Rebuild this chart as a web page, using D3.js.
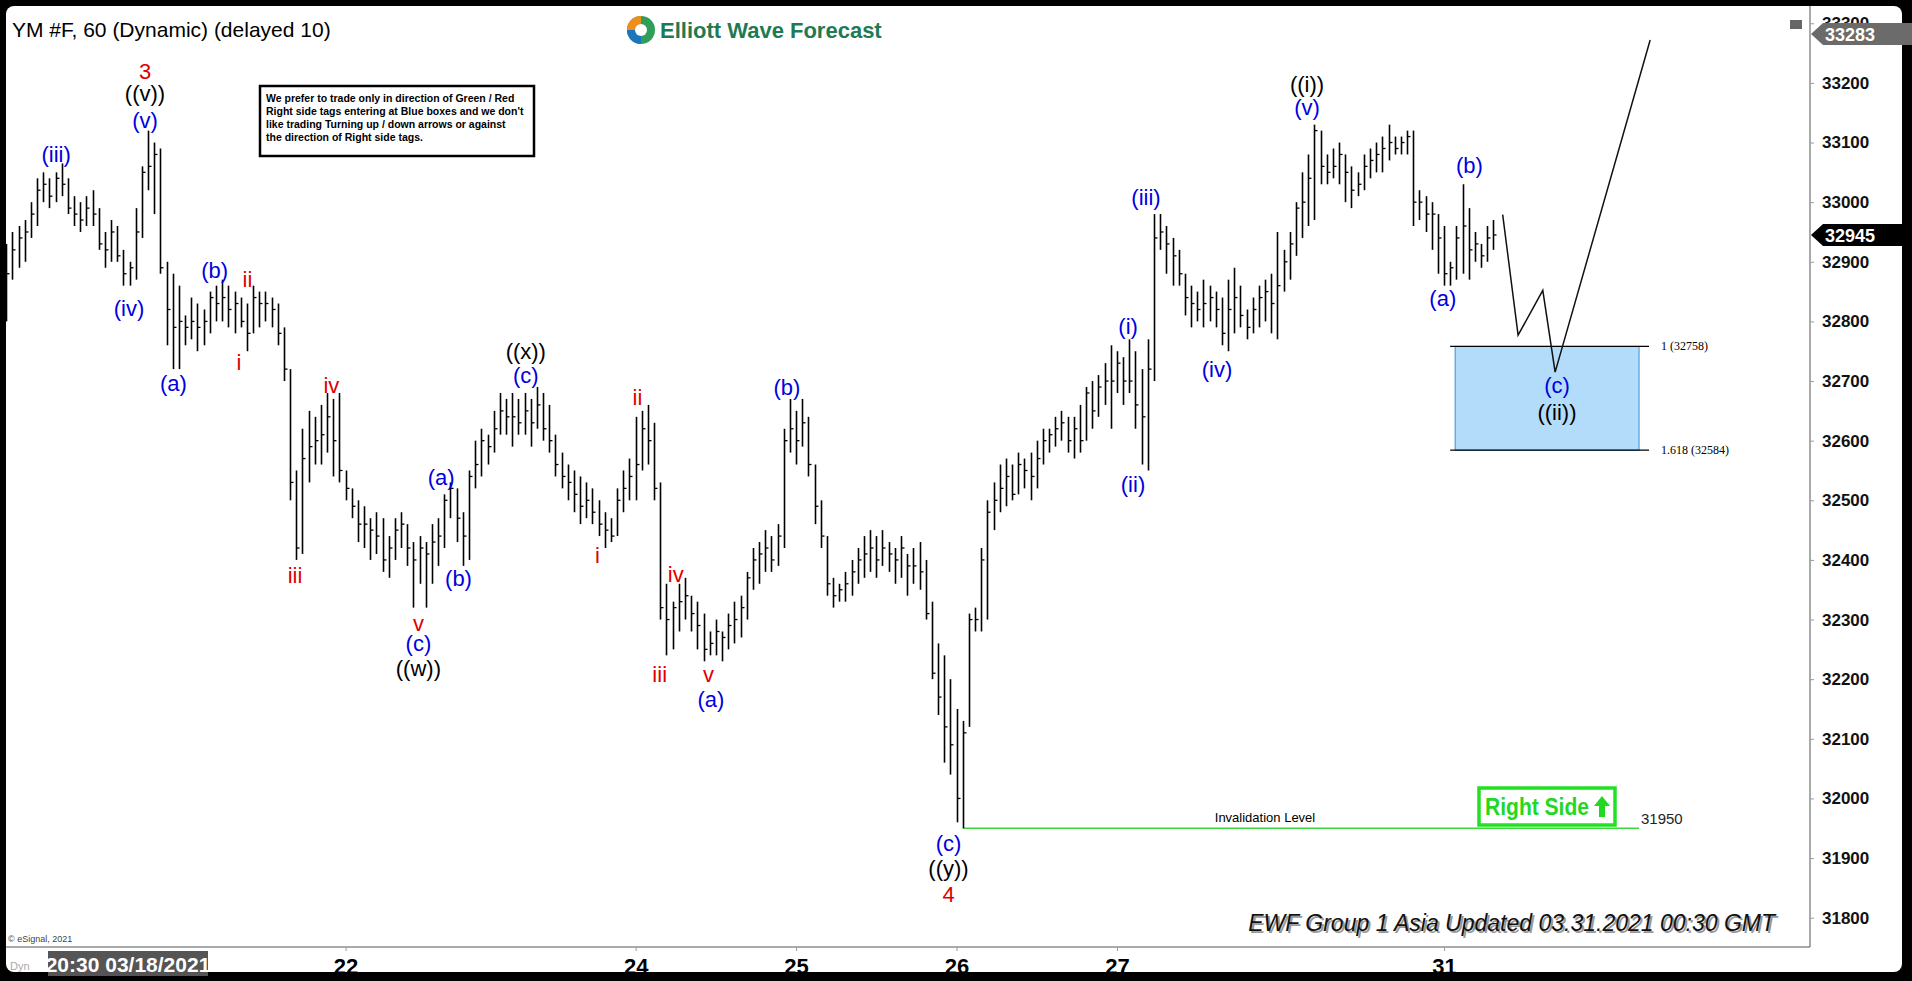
<!DOCTYPE html>
<html><head><meta charset="utf-8">
<script src="https://cdn.jsdelivr.net/npm/d3@7"></script>
<style>
body{margin:0;background:#000;overflow:hidden}
svg{display:block}
</style></head>
<body>
<svg width="1912" height="981"></svg>
<script>
// hourly bars: [high, low, close]
var bars = [
[32930,32800,32880],[32950,32870,32920],[32960,32890,32940],[32970,32900,32950],[33000,32940,32980],
[33040,32960,33020],[33050,33000,33030],[33040,32990,33010],[33050,33000,33040],[33065,33010,33030],
[33040,32980,32990],[33010,32960,32980],[33000,32950,32970],[33010,32960,32990],[33020,32960,32980],
[32990,32920,32930],[32950,32890,32920],[32970,32900,32950],[32960,32900,32910],[32920,32860,32880],
[32900,32860,32890],[32990,32870,32950],[33060,32940,33050],[33120,33020,33060],[33100,32980,33080],
[33090,32880,32890],[32900,32760,32820],[32880,32720,32790],[32860,32720,32800],[32810,32760,32790],
[32840,32770,32800],[32830,32750,32790],[32820,32760,32800],[32850,32780,32840],[32860,32800,32830],
[32870,32800,32840],[32860,32790,32820],[32850,32780,32830],[32840,32790,32800],[32830,32750,32780],
[32860,32780,32840],[32850,32790,32830],[32850,32800,32830],[32840,32790,32820],[32830,32760,32780],
[32790,32700,32720],[32720,32500,32530],[32550,32400,32420],[32620,32410,32570],[32650,32530,32590],
[32640,32560,32600],[32660,32560,32610],[32680,32580,32640],[32670,32540,32600],[32680,32530,32550],
[32550,32500,32520],[32520,32470,32490],[32500,32430,32460],[32490,32420,32460],[32470,32400,32450],
[32480,32410,32440],[32470,32380,32400],[32440,32370,32420],[32470,32400,32450],[32480,32420,32460],
[32460,32390,32420],[32430,32320,32400],[32440,32360,32420],[32430,32320,32410],[32460,32360,32430],
[32470,32390,32440],[32510,32420,32500],[32530,32470,32520],[32520,32430,32470],[32480,32390,32440],
[32550,32400,32540],[32600,32520,32560],[32620,32540,32600],[32610,32560,32590],[32650,32580,32620],
[32680,32610,32650],[32670,32610,32640],[32680,32590,32640],[32670,32610,32630],[32680,32610,32650],
[32670,32590,32630],[32690,32620,32660],[32680,32600,32620],[32660,32580,32600],[32610,32540,32560],
[32580,32520,32540],[32560,32500,32530],[32550,32480,32510],[32540,32460,32490],[32530,32470,32500],
[32520,32460,32480],[32500,32440,32460],[32480,32420,32450],[32470,32430,32440],[32520,32440,32500],
[32550,32480,32520],[32570,32500,32540],[32640,32500,32560],[32650,32550,32620],[32660,32560,32600],
[32630,32500,32520],[32530,32300,32320],[32360,32240,32300],[32330,32250,32320],[32360,32280,32330],
[32370,32300,32340],[32340,32280,32310],[32330,32250,32290],[32310,32230,32250],[32280,32240,32260],
[32300,32240,32280],[32280,32230,32270],[32310,32250,32290],[32330,32260,32300],[32340,32270,32320],
[32380,32300,32370],[32420,32350,32400],[32430,32360,32410],[32450,32380,32420],[32440,32380,32400],
[32460,32390,32440],[32620,32420,32600],[32670,32580,32620],[32650,32560,32600],[32670,32590,32630],
[32640,32540,32560],[32560,32460,32490],[32500,32420,32440],[32440,32340,32360],[32370,32320,32340],
[32360,32330,32350],[32380,32330,32360],[32400,32340,32380],[32420,32360,32400],[32440,32370,32410],
[32450,32380,32420],[32440,32370,32400],[32450,32390,32420],[32430,32380,32410],[32420,32360,32400],
[32440,32370,32420],[32410,32340,32390],[32420,32360,32390],[32430,32350,32380],[32400,32300,32310],
[32330,32200,32210],[32260,32140,32170],[32240,32060,32120],[32200,32040,32090],[32150,31960,32000],
[32130,31950,32110],[32310,32120,32300],[32320,32280,32300],[32420,32280,32400],[32500,32300,32480],
[32530,32450,32500],[32560,32480,32520],[32570,32490,32540],[32560,32500,32510],[32580,32510,32560],
[32570,32520,32550],[32580,32500,32540],[32600,32520,32570],[32620,32560,32600],[32620,32580,32610],
[32640,32590,32620],[32650,32600,32630],[32640,32580,32600],[32640,32570,32620],[32660,32580,32600],
[32690,32600,32680],[32700,32620,32650],[32710,32640,32690],[32730,32660,32700],[32760,32620,32700],
[32750,32680,32730],[32740,32660,32700],[32770,32680,32700],[32750,32620,32660],[32720,32560,32640],
[32770,32550,32720],[32980,32700,32940],[32980,32920,32950],[32960,32880,32930],[32940,32860,32910],
[32920,32860,32880],[32880,32810,32840],[32860,32790,32830],[32850,32800,32820],[32870,32790,32830],
[32860,32800,32840],[32850,32790,32820],[32840,32760,32780],[32870,32750,32820],[32890,32780,32840],
[32860,32790,32810],[32820,32770,32790],[32840,32780,32820],[32860,32790,32840],[32870,32800,32850],
[32880,32780,32830],[32950,32770,32860],[32920,32850,32900],[32950,32870,32930],[33000,32910,32990],
[33050,32940,33000],[33080,32960,33040],[33130,32970,33120],[33120,33030,33060],[33080,33030,33050],
[33090,33040,33060],[33100,33030,33080],[33080,33000,33050],[33060,32990,33020],[33050,33010,33030],
[33080,33020,33060],[33090,33040,33070],[33100,33050,33080],[33110,33050,33090],[33130,33070,33100],
[33110,33080,33090],[33110,33080,33100],[33120,33080,33110],[33120,32960,33000],[33020,32970,33000],
[33010,32950,32980],[33000,32920,32980],[32980,32880,32940],[32960,32860,32880],[32900,32860,32890],
[32960,32870,32940],[33030,32880,32960],[32990,32870,32920],[32950,32900,32930],[32930,32890,32910],
[32960,32900,32940],[32970,32920,32945]
];

var priceTicks = [31800,31900,32000,32100,32200,32300,32400,32500,32600,32700,32800,32900,33000,33100,33200,33300];
var dateTickIdx = [55,102,128,154,180,233];
var dateTickLabels = ['22','24','25','26','27','31'];

// projected path after last bar: [bar index, price]
var projection = [[242.5,32979],[245,32777],[249,32852],[251,32715],[266.4,33272]];

// wave labels: [text, bar index, price, colour]
var waveLabels = [
['3',22.5,33220,'red'],['((v))',22.5,33182,'black'],['(v)',22.5,33137,'blue'],
['(iii)',8.1,33081,'blue'],['(iv)',19.9,32822,'blue'],['(a)',27.1,32697,'blue'],['(b)',33.8,32885,'blue'],
['ii',39.1,32871,'red'],['i',37.7,32732,'red'],['iii',46.8,32374,'red'],['iv',52.7,32693,'red'],
['v',66.8,32294,'red'],['(c)',66.8,32261,'blue'],['((w))',66.8,32218,'black'],
['((x))',84.2,32750,'black'],['(c)',84.2,32709,'blue'],['(a)',70.5,32539,'blue'],['(b)',73.3,32370,'blue'],
['ii',102.3,32672,'red'],['i',95.8,32407,'red'],['iii',105.9,32208,'red'],['iv',108.5,32376,'red'],
['v',113.8,32208,'red'],['(a)',114.2,32167,'blue'],['(b)',126.5,32689,'blue'],
['(c)',152.7,31924,'blue'],['((y))',152.7,31883,'black'],['4',152.7,31840,'red'],
['(i)',181.8,32791,'blue'],['(ii)',182.6,32527,'blue'],['(iii)',184.7,33008,'blue'],['(iv)',196.2,32719,'blue'],
['((i))',210.8,33198,'black'],['(v)',210.8,33159,'blue'],
['(a)',232.8,32838,'blue'],['(b)',237.1,33061,'blue'],['(c)',251.3,32693,'blue'],['((ii))',251.3,32648,'black']
];

var blueBox = {from: 234.8, to: 264.6, top: 32758, bottom: 32584};
var invalidation = {from: 155, to: 264.6, price: 31950};
var lastPrice = 32945, highPrice = 33283;

var colors = {red: '#e00000', blue: '#0000e0', black: '#000'};

var svg = d3.select('svg');
var W = 1912, H = 981;
var plot = {l: 6, t: 10, r: 1810, b: 947};

svg.append('rect').attr('x', 0).attr('y', 0).attr('width', W).attr('height', H).attr('fill', '#000');
svg.append('rect').attr('x', 6).attr('y', 6).attr('width', 1896).attr('height', 966).attr('rx', 8).attr('fill', '#fff');

var x = d3.scaleLinear().domain([-1, 292.3]).range([0, 1810]);
var y = d3.scaleLinear().domain([31800, 33200]).range([917.7, 82.9]);

// frame
svg.append('line').attr('x1', plot.r).attr('x2', plot.r).attr('y1', 6).attr('y2', plot.b).attr('stroke', '#555');
svg.append('line').attr('x1', 6).attr('x2', plot.r).attr('y1', plot.b).attr('y2', plot.b).attr('stroke', '#555');

// right price axis
var yAxis = d3.axisRight(y).tickValues(priceTicks).tickSize(4).tickFormat(d3.format('d'));
var ya = svg.append('g').attr('transform', 'translate(' + plot.r + ',0)').call(yAxis);
ya.select('.domain').remove();
ya.selectAll('text').attr('font-family', 'Arial, Liberation Sans').attr('font-weight', 'bold')
    .attr('font-size', 17).attr('fill', '#111').attr('x', 12);
ya.selectAll('line').attr('stroke', '#999');

// bottom date axis
var xAxis = d3.axisBottom(x).tickValues(dateTickIdx).tickFormat(function(d, i) { return dateTickLabels[i]; }).tickSize(4);
var xa = svg.append('g').attr('transform', 'translate(0,' + plot.b + ')').call(xAxis);
xa.select('.domain').remove();
xa.selectAll('line').attr('stroke', '#999');
xa.selectAll('text').attr('font-family', 'Liberation Sans Narrow, Arial').attr('font-weight', 'bold')
    .attr('font-size', 22).attr('fill', '#000').attr('dy', '0.9em');

svg.append('rect').attr('x', 48).attr('y', 951).attr('width', 160).attr('height', 25).attr('fill', '#555');
svg.append('text').attr('x', 128).attr('y', 972).attr('text-anchor', 'middle').attr('fill', '#fff')
    .attr('font-family', 'Liberation Sans Narrow, Arial').attr('font-weight', 'bold').attr('font-size', 21)
    .text('20:30 03/18/2021');
svg.append('text').attr('x', 10).attr('y', 970).attr('fill', '#aaa').attr('font-family', 'Arial')
    .attr('font-size', 11).text('Dyn');

// blue target box
svg.append('rect').attr('x', x(blueBox.from)).attr('y', y(blueBox.top))
    .attr('width', x(blueBox.to) - x(blueBox.from)).attr('height', y(blueBox.bottom) - y(blueBox.top))
    .attr('fill', '#b3dcfb').attr('stroke', '#3a8fd6');
[blueBox.top, blueBox.bottom].forEach(function(p) {
    svg.append('line').attr('x1', x(blueBox.from) - 5).attr('x2', x(blueBox.to) + 10)
        .attr('y1', y(p)).attr('y2', y(p)).attr('stroke', '#000').attr('stroke-width', 1.2);
});
svg.append('text').attr('x', x(blueBox.to) + 22).attr('y', y(blueBox.top) + 4).attr('font-family', 'Liberation Serif, Times')
    .attr('font-size', 12).text('1 (32758)');
svg.append('text').attr('x', x(blueBox.to) + 22).attr('y', y(blueBox.bottom) + 4).attr('font-family', 'Liberation Serif, Times')
    .attr('font-size', 12).text('1.618 (32584)');

// invalidation
svg.append('line').attr('x1', x(invalidation.from)).attr('x2', x(invalidation.to))
    .attr('y1', y(invalidation.price)).attr('y2', y(invalidation.price)).attr('stroke', '#3bd63b').attr('stroke-width', 1.3);
svg.append('text').attr('x', 1265).attr('y', y(invalidation.price) - 6).attr('text-anchor', 'middle')
    .attr('font-family', 'Arial').attr('font-size', 13).text('Invalidation Level');
svg.append('text').attr('x', 1641).attr('y', y(invalidation.price) - 4).attr('font-family', 'Arial')
    .attr('font-size', 15).attr('fill', '#222').text('31950');

// bars
var g = svg.append('g').attr('stroke', '#000').attr('stroke-width', 1.6);
bars.forEach(function(b, i) {
    var cx = Math.round(x(i)) + 0.5;
    g.append('line').attr('x1', cx).attr('x2', cx).attr('y1', y(b[0])).attr('y2', y(b[1]));
    g.append('line').attr('x1', cx).attr('x2', cx + 3).attr('y1', y(b[2])).attr('y2', y(b[2])).attr('stroke-width', 1.3);
});

// projection path
svg.append('path').datum(projection)
    .attr('d', d3.line().x(function(d) { return x(d[0]); }).y(function(d) { return y(d[1]); }))
    .attr('fill', 'none').attr('stroke', '#111').attr('stroke-width', 1.5);

// wave labels
svg.append('g').selectAll('text').data(waveLabels).enter().append('text')
    .attr('x', function(d) { return x(d[1]); })
    .attr('y', function(d) { return y(d[2]); })
    .attr('dy', '0.35em').attr('text-anchor', 'middle')
    .attr('font-family', 'Arial, Liberation Sans').attr('font-size', 22)
    .attr('fill', function(d) { return colors[d[3]]; })
    .text(function(d) { return d[0]; });

// price tags
function tag(p, fill, yy) {
    var ty = yy === undefined ? y(p) : yy;
    svg.append('path').attr('d', 'M' + (plot.r + 1) + ',' + ty + 'l12,-11h90v22h-90z').attr('fill', fill);
    svg.append('text').attr('x', plot.r + 15).attr('y', ty + 7).attr('fill', '#fff').attr('font-family', 'Arial')
        .attr('font-weight', 'bold').attr('font-size', 18).text(d3.format('d')(p));
}
tag(highPrice, '#6b6b6b', 34);
tag(lastPrice, '#000');

// header
svg.append('text').attr('x', 12).attr('y', 37).attr('font-family', 'Arial, Liberation Sans').attr('font-size', 21)
    .text('YM #F, 60 (Dynamic) (delayed 10)');
var logo = svg.append('g').attr('transform', 'translate(641,30)');
logo.append('circle').attr('r', 14).attr('fill', '#2f9e5a');
logo.append('path').attr('d', 'M-14,0a14,14 0 0,1 14,-14v14z').attr('fill', '#f28c1a');
logo.append('path').attr('d', 'M0,14a14,14 0 0,1 -14,-14h14z').attr('fill', '#1b75bc');
logo.append('circle').attr('r', 6).attr('fill', '#fff');
svg.append('text').attr('x', 660).attr('y', 38).attr('font-family', 'Arial, Liberation Sans').attr('font-weight', 'bold')
    .attr('font-size', 22).attr('fill', '#1f7a53').text('Elliott Wave Forecast');

// notice box
svg.append('rect').attr('x', 260).attr('y', 86).attr('width', 274).attr('height', 70).attr('fill', '#fff')
    .attr('stroke', '#000').attr('stroke-width', 2.5);
['We prefer to trade only in direction of Green / Red', "Right side tags entering at Blue boxes and we don't",
 'like trading Turning up / down arrows or against', 'the direction of Right side tags.'].forEach(function(t, i) {
    svg.append('text').attr('x', 266).attr('y', 102 + i * 13).attr('font-family', 'Arial, Liberation Sans')
        .attr('font-weight', 'bold').attr('font-size', 10.5).text(t);
});

// right side tag
svg.append('rect').attr('x', 1479).attr('y', 788).attr('width', 136).attr('height', 37).attr('fill', '#fff')
    .attr('stroke', '#22e022').attr('stroke-width', 3.5);
svg.append('text').attr('x', 1485).attr('y', 815).attr('font-family', 'Liberation Sans Narrow, Arial').attr('font-weight', 'bold')
    .attr('font-size', 23).attr('fill', '#22d822').attr('textLength', 104).attr('lengthAdjust', 'spacingAndGlyphs').text('Right Side');
svg.append('path').attr('d', 'M1602,796l-8,10h5v11h6v-11h5z').attr('fill', '#22d822');

// footer
var foot = 'EWF Group 1 Asia Updated 03.31.2021 00:30 GMT';
svg.append('text').attr('x', 1775 + 2).attr('y', 931 + 2).attr('text-anchor', 'end').attr('font-family', 'Liberation Sans Narrow, Arial')
    .attr('font-style', 'italic').attr('font-size', 23).attr('fill', '#999').text(foot);
svg.append('text').attr('x', 1775).attr('y', 931).attr('text-anchor', 'end').attr('font-family', 'Liberation Sans Narrow, Arial')
    .attr('font-style', 'italic').attr('font-size', 23).attr('fill', '#111').text(foot);
svg.append('text').attr('x', 8).attr('y', 942).attr('font-family', 'Arial').attr('font-size', 9).attr('fill', '#444').text('© eSignal, 2021');
svg.append('rect').attr('x', 1790).attr('y', 20).attr('width', 12).attr('height', 9).attr('fill', '#666');
</script>
</body></html>
